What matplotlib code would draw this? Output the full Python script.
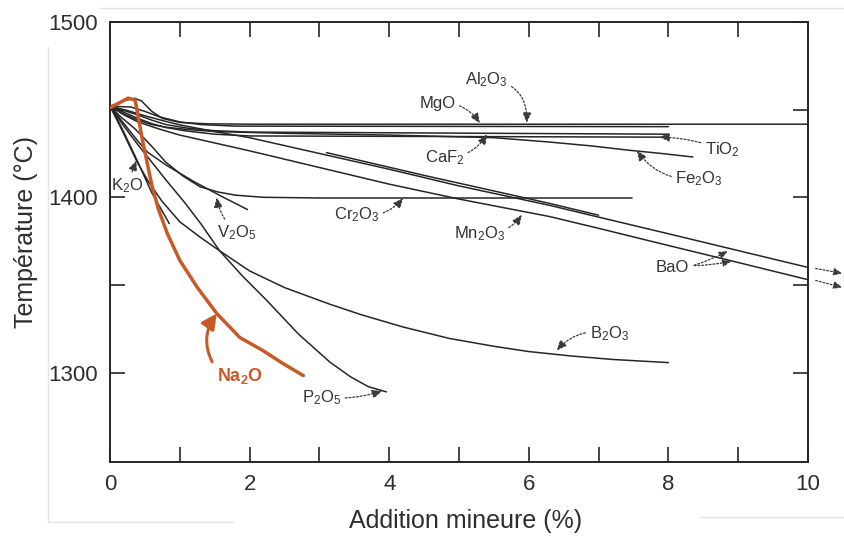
import matplotlib
matplotlib.use("Agg")
import matplotlib.pyplot as plt
from matplotlib.lines import Line2D

plt.rcParams['font.family'] = ['Liberation Sans', 'DejaVu Sans']
plt.rcParams['mathtext.fontset'] = 'custom'
plt.rcParams['mathtext.rm'] = 'Liberation Sans'
plt.rcParams['mathtext.it'] = 'Liberation Sans:italic'
plt.rcParams['mathtext.bf'] = 'Liberation Sans:bold'
plt.rcParams['mathtext.default'] = 'regular'

# courbes (addition %, temperature °C)
al2o3_x = [0, 0.1, 0.2, 0.35, 0.45, 0.6, 0.75, 1.0, 1.4, 2.0, 10]
al2o3_y = [1452, 1453.5, 1455, 1456.5, 1455, 1449, 1445, 1442.7, 1441.9, 1441.7, 1441.7]
mgo_x = [0, 0.3, 0.5, 0.7, 1.0, 1.3, 1.8, 8]
mgo_y = [1452, 1451.5, 1449, 1446, 1443, 1441.5, 1440.6, 1440.3]
caf2_x = [0, 0.2, 0.4, 0.6, 0.8, 1.1, 1.5, 2.0, 8]
caf2_y = [1452, 1449.5, 1447, 1444, 1441.5, 1439.5, 1438, 1437.2, 1436]
tio2_x = [0, 0.2, 0.4, 0.6, 0.8, 1.1, 1.5, 2.0, 8]
tio2_y = [1452, 1448.5, 1445, 1442, 1439.8, 1437.8, 1436, 1435, 1434.3]
fe2o3_x = [0, 0.2, 0.4, 0.6, 0.8, 1.1, 1.5, 2.5, 4, 5.5, 6.3, 6.9, 7.4, 7.9, 8.35]
fe2o3_y = [1452, 1447.5, 1444, 1441.5, 1440, 1438.7, 1437.5, 1436.5, 1435.5, 1434,
           1431.5, 1429.3, 1427, 1425, 1423]
bao_x = [0, 0.25, 0.5, 0.75, 1, 1.5, 2, 3, 4, 5, 6.3, 7, 8, 9, 10]
bao_y = [1452, 1449.5, 1446.5, 1443.8, 1441.3, 1437.5, 1434, 1425, 1416, 1406.5,
         1395.4, 1388.7, 1379.2, 1369.6, 1360]
bao2_x = [3.1, 4.5, 6.3, 7.0]
bao2_y = [1425.5, 1412.5, 1396.5, 1389.8]
mn2o3_x = [0, 0.2, 0.4, 0.7, 1, 1.5, 2, 3, 4, 5, 6.3, 7, 8, 9, 10]
mn2o3_y = [1452, 1447, 1443, 1439, 1435.5, 1431, 1426.5, 1417, 1407.5, 1399, 1389,
           1382.3, 1372.5, 1362.8, 1353]
cr2o3_x = [0, 0.15, 0.36, 0.6, 0.8, 1.05, 1.29, 1.55, 1.8, 2.2, 3.0, 7.48]
cr2o3_y = [1452, 1446, 1439, 1429, 1420, 1412, 1406, 1403, 1401.2, 1400, 1399.6, 1399.6]
v2o5_x = [0, 0.12, 0.25, 0.4, 0.54, 0.8, 1.2, 1.6, 1.97]
v2o5_y = [1452, 1446, 1439.5, 1432, 1425.7, 1418.5, 1409, 1400.5, 1393]
k2o_x = [0, 0.1, 0.2, 0.3, 0.4, 0.6, 0.85]
k2o_y = [1452, 1445, 1437, 1428.5, 1420, 1402.5, 1385]
b2o3_x = [0, 0.2, 0.39, 0.55, 0.74, 1.0, 1.3, 1.57, 2.0, 2.5, 3.15, 3.6, 4.2, 4.86,
          5.5, 6.0, 6.6, 7.2, 8.0]
b2o3_y = [1452, 1436, 1420, 1409, 1398, 1386, 1377, 1369.5, 1358, 1348.5, 1339, 1333,
          1326, 1319.5, 1315, 1312, 1309.5, 1307.5, 1305.7]
p2o5_x = [0, 0.21, 0.4, 0.6, 0.82, 1.07, 1.3, 1.57, 1.9, 2.25, 2.7, 3.15, 3.45, 3.7, 3.96]
p2o5_y = [1452, 1440, 1430, 1420, 1409, 1397, 1385, 1369.5, 1355, 1341, 1322, 1306,
          1297.5, 1292, 1289]
na2o_x = [0, 0.26, 0.36, 0.40, 0.46, 0.53, 0.60, 0.69, 0.82, 1.00, 1.25, 1.53, 1.86,
          2.19, 2.48, 2.77]
na2o_y = [1451, 1456.6, 1455.4, 1446.9, 1433.7, 1420, 1406.9, 1393.7, 1379.4, 1364,
          1348.6, 1333.7, 1320, 1312.6, 1305.1, 1298.3]

# etiquettes : texte, position du texte, pointe de la fleche, courbure
labels = [
    ("$Al_2O_3$", (5.39, 1466.9), (5.97, 1442.5), -0.5),
    ("MgO", (4.69, 1453.7), (5.3, 1442.2), -0.3),
    ("$CaF_2$", (4.79, 1422.9), (5.4, 1436), 0.3),
    ("$TiO_2$", (8.77, 1426.9), (7.87, 1434.3), 0.1),
    ("$Fe_2O_3$", (8.44, 1410.9), (7.55, 1426.6), -0.3),
    ("$Cr_2O_3$", (3.53, 1390.3), (4.2, 1399.6), 0.3),
    ("$Mn_2O_3$", (5.29, 1379.4), (5.9, 1390), 0.3),
    ("$V_2O_5$", (1.82, 1380), (1.53, 1400), -0.2),
    ("$K_2O$", (0.24, 1406.9), (0.38, 1421), 0.0),
    ("$P_2O_5$", (3.03, 1285.7), (3.9, 1289.5), 0.1),
    ("$B_2O_3$", (7.15, 1322.3), (6.4, 1312.6), 0.3),
]
bao_label = ("BaO", (8.05, 1360))
bao_tips = [(8.9, 1363.5), (8.85, 1369.3)]
# fleches de continuation au-dela de 10 %
cont_start = [(10.11, 1359.4), (10.11, 1352.6)]
cont_end = [(10.49, 1356.6), (10.49, 1348.6)]

ink = '#262626'
orange = '#c85a28'

fig = plt.figure(figsize=(8.45, 5.39), dpi=100)

# traits gris du scan
for xs, ys in [((100/845, 1), (531/539, 531/539)),
               ((48/845, 48/845), (17/539, 492/539)),
               ((48/845, 233/845), (17/539, 17/539)),
               ((700/845, 1), (22/539, 22/539))]:
    fig.add_artist(Line2D(xs, ys, color='#e4e4e4', lw=1.0, zorder=0))

ax = fig.add_axes([110/845, 77/539, 698/845, 440/539])

curves = [(al2o3_x, al2o3_y), (mgo_x, mgo_y), (caf2_x, caf2_y), (tio2_x, tio2_y),
          (fe2o3_x, fe2o3_y), (bao_x, bao_y), (bao2_x, bao2_y), (mn2o3_x, mn2o3_y),
          (cr2o3_x, cr2o3_y), (v2o5_x, v2o5_y), (k2o_x, k2o_y), (b2o3_x, b2o3_y),
          (p2o5_x, p2o5_y)]
for cx, cy in curves:
    ax.plot(cx, cy, color=ink, lw=1.1, solid_capstyle='round',
            solid_joinstyle='round', clip_on=False)

ax.plot(na2o_x, na2o_y, color=orange, lw=2.5, solid_joinstyle='round',
        solid_capstyle='round', zorder=5)

dots = dict(arrowstyle='-|>,head_length=0.5,head_width=0.22', color='#3a3a3a',
            lw=0.9, linestyle=(0, (1.5, 1.5)), shrinkA=1, shrinkB=0)
for txt, pos, tip, rad in labels:
    ax.annotate(txt, xy=tip, xytext=pos, ha='center', va='center', fontsize=12,
                color='#333333',
                arrowprops=dict(dots, connectionstyle='arc3,rad=%s' % rad))
ax.text(bao_label[1][0], bao_label[1][1], bao_label[0], ha='center', va='center',
        fontsize=12, color='#333333')
for tip in bao_tips:
    ax.annotate('', xy=tip, xytext=(bao_label[1][0] + 0.3, bao_label[1][1] + 1),
                arrowprops=dict(dots, connectionstyle='arc3,rad=0.05'))
for s, e in zip(cont_start, cont_end):
    ax.annotate('', xy=e, xytext=s, annotation_clip=False,
                arrowprops=dict(dots, shrinkA=0))

ax.annotate(r'$\mathbf{Na_2O}$', xy=(1.53, 1333.7), xytext=(1.86, 1298.3),
            ha='center', va='center', fontsize=13, color=orange,
            arrowprops=dict(arrowstyle='-|>,head_length=0.7,head_width=0.35',
                            color=orange, lw=2.2, shrinkA=3, shrinkB=0,
                            connectionstyle='arc3,rad=-0.35',
                            relpos=(0.0, 0.8)), zorder=6)

ax.set_xlim(0, 10)
ax.set_ylim(1249, 1500)
ax.set_xticks([0, 2, 4, 6, 8, 10])
ax.set_xticks([1, 3, 5, 7, 9], minor=True)
ax.set_yticks([1300, 1400, 1500])
ax.set_yticks([1350, 1450], minor=True)
ax.tick_params(which='both', direction='in', top=True, right=True, length=11,
               width=1.2, color=ink, labelsize=16, labelcolor='#2e2e2e', pad=9)
for sp in ax.spines.values():
    sp.set_linewidth(1.4)
    sp.set_color(ink)

ax.set_xlabel('Addition mineure (%)', fontsize=18, color='#2e2e2e')
ax.set_ylabel('Température (°C)', fontsize=18, color='#2e2e2e',
              bbox=dict(facecolor='white', edgecolor='none', pad=1))
ax.xaxis.set_label_coords(0.51, -0.106)
ax.yaxis.set_label_coords(-0.103, 0.523)

fig.savefig('out.png', dpi=100)
